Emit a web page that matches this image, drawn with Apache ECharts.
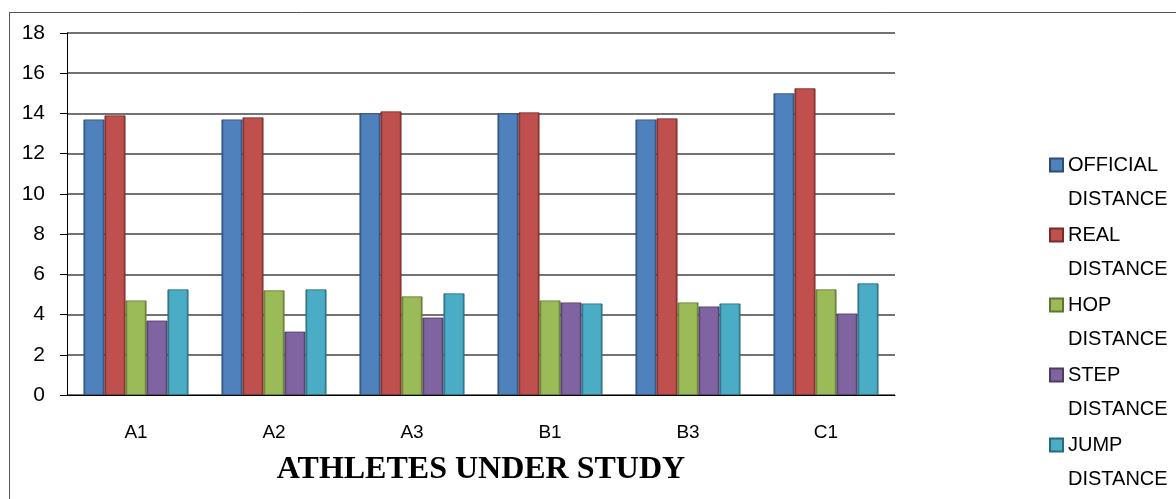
<!DOCTYPE html>
<html>
<head>
<meta charset="utf-8">
<script src="https://cdn.jsdelivr.net/npm/echarts@6/dist/echarts.min.js"></script>
<style>
html,body{margin:0;padding:0;background:#fff;}
#chart{width:1176px;height:499px;}
</style>
</head>
<body>
<div id="chart"></div>
<script>
const categories = ['A1', 'A2', 'A3', 'B1', 'B3', 'C1'];
const official = [13.7, 13.7, 14.0, 14.0, 13.7, 15.0];
const real = [13.9, 13.8, 14.1, 14.05, 13.75, 15.25];
const hop = [4.7, 5.2, 4.9, 4.7, 4.6, 5.25];
const step = [3.7, 3.15, 3.85, 4.6, 4.4, 4.05];
const jump = [5.25, 5.25, 5.05, 4.55, 4.55, 5.55];
const seriesNames = ['OFFICIAL DISTANCE', 'REAL DISTANCE', 'HOP DISTANCE', 'STEP DISTANCE', 'JUMP DISTANCE'];
const colors = ['#4F81BD', '#C0504D', '#9BBB59', '#8064A2', '#4BACC6'];
const borders = ['#2C4D75', '#772C2A', '#5F7530', '#4D3B62', '#276A7C'];
const values = [official, real, hop, step, jump];

const chart = echarts.init(document.getElementById('chart'));
chart.setOption({
  animation: false,
  backgroundColor: '#fff',
  graphic: [{
    type: 'rect', left: 7, top: 10, z: -10,
    shape: { width: 1200, height: 520 },
    style: { fill: 'none', stroke: '#555', lineWidth: 1 }
  }],
  grid: { left: 67, right: 281, top: 33, bottom: 104 },
  legend: {
    orient: 'vertical',
    left: 1049,
    top: 114,
    height: 480,
    padding: 0,
    itemWidth: 13,
    itemHeight: 13,
    itemGap: -32,
    icon: 'rect',
    formatter: n => {
      const p = n.split(' ');
      return '{e|}\n{a|' + p[0] + '}\n{a|' + p[1] + '}';
    },
    textStyle: {
      color: '#000',
      rich: {
        e: { height: 34, lineHeight: 34, fontSize: 20 },
        a: { fontFamily: 'Liberation Sans', fontSize: 20, lineHeight: 34, height: 34, color: '#000' }
      }
    },
    data: seriesNames
  },
  xAxis: {
    type: 'category',
    data: categories,
    axisTick: { show: false },
    axisLine: { lineStyle: { color: '#000', width: 1 } },
    axisLabel: { color: '#000', fontSize: 19, fontFamily: 'Liberation Sans', margin: 28 },
    name: 'ATHLETES UNDER STUDY',
    nameLocation: 'middle',
    nameGap: 59,
    nameTextStyle: { fontFamily: 'Liberation Serif', fontWeight: 'bold', fontSize: 32, color: '#000' }
  },
  yAxis: {
    type: 'value',
    min: 0, max: 18, interval: 2,
    axisLine: { show: true, lineStyle: { color: '#000', width: 1 } },
    axisTick: { show: true, inside: false, length: 7, lineStyle: { color: '#000' } },
    axisLabel: { color: '#000', fontSize: 21, fontFamily: 'Liberation Sans', margin: 22 },
    splitLine: { lineStyle: { color: '#444', width: 1.5 } }
  },
  series: seriesNames.map((name, i) => ({
    name: name,
    type: 'bar',
    data: values[i],
    barWidth: 21,
    barGap: '0%',
    itemStyle: {
      color: {
        type: 'linear', x: 0, y: 0, x2: 1, y2: 0,
        colorStops: [
          { offset: 0, color: borders[i] },
          { offset: 0.12, color: colors[i] },
          { offset: 0.88, color: colors[i] },
          { offset: 1, color: borders[i] }
        ]
      },
      borderColor: borders[i],
      borderWidth: 0.8
    }
  }))
});
</script>
</body>
</html>
